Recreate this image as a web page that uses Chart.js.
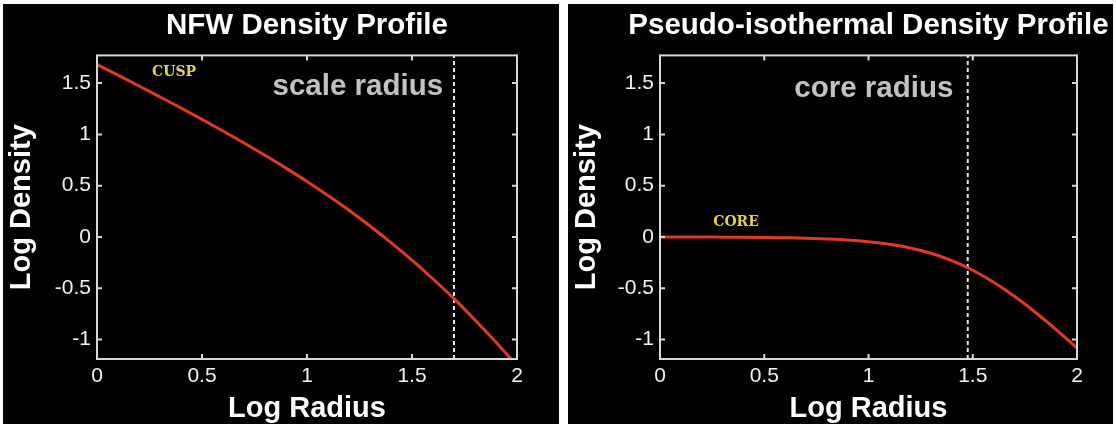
<!DOCTYPE html>
<html lang="en">
<head>
<meta charset="UTF-8">
<title>Density Profiles</title>
<script src="https://cdn.jsdelivr.net/npm/chart.js"></script>
<style>
  html, body { margin: 0; padding: 0; background: #fff; }
  #wrap { position: relative; width: 1116px; height: 427px; overflow: hidden; background: #fff; }
  .panel { position: absolute; top: 4px; height: 420px; background: #000; }
  #panelNfw { left: 3px; width: 556px; }
  #panelIso { left: 568px; width: 545px; }
  canvas { position: absolute; top: 4px; }
  #nfwChart { left: 3px; }
  #isoChart { left: 568px; }
</style>
</head>
<body>
<div id="wrap">
  <div class="panel" id="panelNfw"></div>
  <div class="panel" id="panelIso"></div>
  <canvas id="nfwChart" width="608" height="420"></canvas>
  <canvas id="isoChart" width="601" height="420"></canvas>
</div>
<script>
// log radius samples shared by both profiles
const logRadius = [0, 0.1, 0.2, 0.3, 0.4, 0.5, 0.6, 0.7, 0.8, 0.9, 1.0,
                   1.1, 1.2, 1.3, 1.4, 1.5, 1.6, 1.7, 1.8, 1.9, 2.0];
// NFW: cuspy centre, steepening outwards
const nfwDensity = [1.680, 1.577, 1.472, 1.365, 1.257, 1.146, 1.033, 0.916, 0.796, 0.671, 0.541,
                    0.404, 0.260, 0.107, -0.055, -0.227, -0.410, -0.602, -0.810, -1.027, -1.255];
// pseudo-isothermal: flat core, then falls off
const isoDensity = [0.000, -0.001, -0.001, -0.002, -0.003, -0.005, -0.008, -0.012, -0.019, -0.029, -0.046,
                    -0.071, -0.107, -0.159, -0.231, -0.325, -0.441, -0.579, -0.734, -0.904, -1.083];
const scaleRadius = 1.7;
const coreRadius = 1.476;

const xTickValues = [0, 0.5, 1, 1.5, 2];
const yTickValues = [-1, -0.5, 0, 0.5, 1, 1.5];
const xRange = [0, 2];
const yRange = [-1.19, 1.77];

const FONT = "'Liberation Sans', Arial, Helvetica, sans-serif";
Chart.defaults.font.family = FONT;
Chart.defaults.color = '#f2f2f2';

const frameColor = '#d8d8d8';
const curveColor = '#e2391f';

// box around the plot with inward ticks on all four sides
const framePlugin = {
  id: 'frame',
  afterDatasetsDraw(chart) {
    const { ctx, chartArea: a, scales: { x, y } } = chart;
    const len = 5;
    ctx.save();
    ctx.strokeStyle = frameColor;
    ctx.lineWidth = 2;
    ctx.strokeRect(a.left, a.top, a.right - a.left, a.bottom - a.top);
    ctx.beginPath();
    x.ticks.forEach(t => {
      const px = x.getPixelForValue(t.value);
      ctx.moveTo(px, a.bottom); ctx.lineTo(px, a.bottom - len);
      ctx.moveTo(px, a.top); ctx.lineTo(px, a.top + len);
    });
    y.ticks.forEach(t => {
      const py = y.getPixelForValue(t.value);
      ctx.moveTo(a.left, py); ctx.lineTo(a.left + len, py);
      ctx.moveTo(a.right, py); ctx.lineTo(a.right - len, py);
    });
    ctx.stroke();
    ctx.restore();
  }
};

// text labels placed in data coordinates
const notesPlugin = {
  id: 'notes',
  afterDatasetsDraw(chart, args, opts) {
    const { ctx, scales: { x, y } } = chart;
    (opts.items || []).forEach(n => {
      ctx.save();
      ctx.font = n.font;
      ctx.fillStyle = n.color;
      ctx.textAlign = n.align;
      ctx.textBaseline = n.baseline;
      ctx.fillText(n.text, x.getPixelForValue(n.x), y.getPixelForValue(n.y));
      ctx.restore();
    });
  }
};

function makeChart(id, cfg) {
  const ctx = document.getElementById(id).getContext('2d');
  return new Chart(ctx, {
    type: 'line',
    data: {
      datasets: [
        {
          data: logRadius.map((r, i) => ({ x: r, y: cfg.density[i] })),
          borderColor: curveColor,
          borderWidth: 3,
          pointRadius: 0,
          cubicInterpolationMode: 'monotone'
        },
        {
          data: [{ x: cfg.marker, y: yRange[0] }, { x: cfg.marker, y: yRange[1] }],
          borderColor: '#e4e4e4',
          borderWidth: 2,
          borderDash: [4, 3],
          pointRadius: 0
        }
      ]
    },
    options: {
      responsive: false,
      devicePixelRatio: 1,
      animation: false,
      events: [],
      layout: { padding: 0 },
      plugins: {
        legend: { display: false },
        tooltip: { enabled: false },
        title: {
          display: true,
          text: cfg.title,
          color: '#ffffff',
          font: { size: 29.5, weight: 'bold' },
          padding: { top: 4, bottom: 12 }
        },
        notes: { items: cfg.notes }
      },
      scales: {
        x: {
          type: 'linear',
          min: xRange[0], max: xRange[1],
          afterBuildTicks: s => { s.ticks = xTickValues.map(v => ({ value: v })); },
          afterFit: s => { s.height = 65; },
          grid: { display: false, drawTicks: false },
          border: { display: false },
          ticks: { callback: v => String(v), font: { size: 21 }, padding: 5, maxRotation: 0 },
          title: {
            display: true, text: 'Log Radius', color: '#ffffff',
            font: { size: 29, weight: 'bold', lineHeight: 1.05 }, padding: 0
          }
        },
        y: {
          type: 'linear',
          min: yRange[0], max: yRange[1],
          afterBuildTicks: s => { s.ticks = yTickValues.map(v => ({ value: v })); },
          afterFit: s => { s.width = cfg.side; },
          grid: { display: false, drawTicks: false },
          border: { display: false },
          ticks: { callback: v => String(v), font: { size: 21 }, padding: 6 },
          title: {
            display: true, text: 'Log Density', color: '#ffffff',
            font: { size: 29, weight: 'bold', lineHeight: 1.05 }, padding: { top: 4, bottom: 0 }
          }
        },
        // empty right-hand axis keeps the plot centred under the title
        y2: {
          type: 'linear',
          position: 'right',
          min: yRange[0], max: yRange[1],
          afterFit: s => { s.width = cfg.side; },
          grid: { display: false, drawTicks: false },
          border: { display: false },
          ticks: { display: false }
        }
      }
    },
    plugins: [framePlugin, notesPlugin]
  });
}

makeChart('nfwChart', {
  title: 'NFW Density Profile',
  density: nfwDensity,
  marker: scaleRadius,
  side: 94,
  notes: [
    { text: 'scale radius', x: 1.648, y: 1.385, align: 'right', baseline: 'alphabetic',
      font: "bold 29.5px " + FONT, color: '#c2c2c2' },
    { text: 'CUSP', x: 0.367, y: 1.603, align: 'center', baseline: 'middle',
      font: "bold 14px 'DejaVu Serif', serif", color: '#e2d34a' }
  ]
});

makeChart('isoChart', {
  title: 'Pseudo-isothermal Density Profile',
  density: isoDensity,
  marker: coreRadius,
  side: 92,
  notes: [
    { text: 'core radius', x: 1.407, y: 1.369, align: 'right', baseline: 'alphabetic',
      font: "bold 29.5px " + FONT, color: '#c2c2c2' },
    { text: 'CORE', x: 0.365, y: 0.143, align: 'center', baseline: 'middle',
      font: "bold 14px 'DejaVu Serif', serif", color: '#e2d34a' }
  ]
});
</script>
</body>
</html>
